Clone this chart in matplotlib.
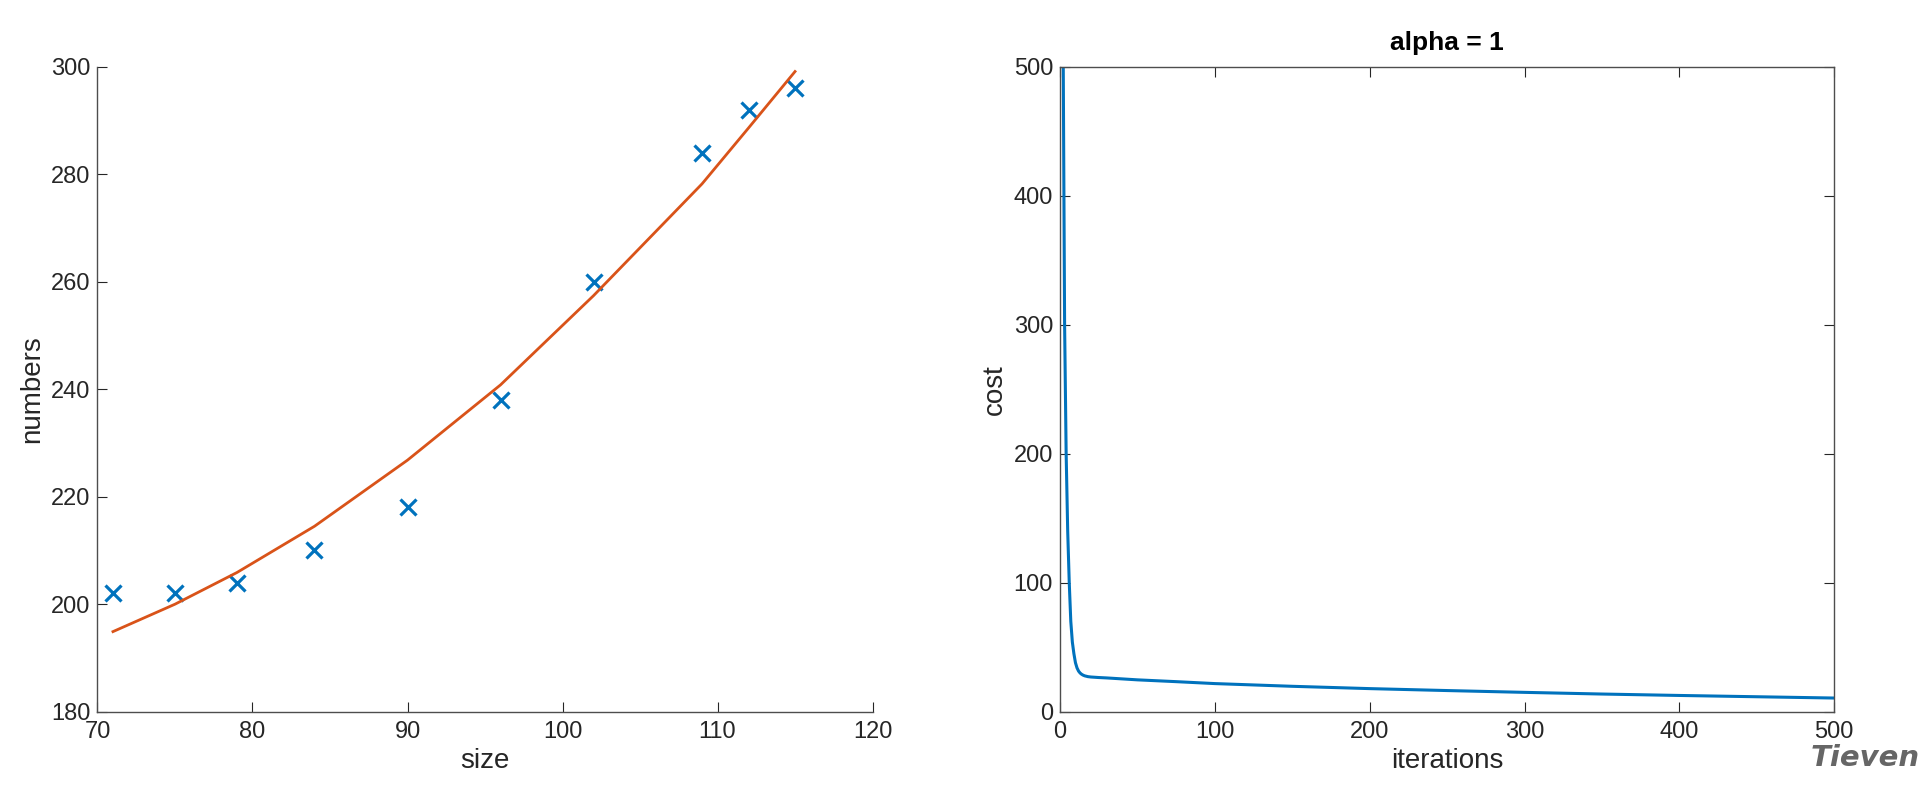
import matplotlib
matplotlib.use("Agg")
import matplotlib.pyplot as plt

plt.rcParams['font.family'] = ['Liberation Sans', 'DejaVu Sans']

# ---- data ----
size = [71, 75, 79, 84, 90, 96, 102, 109, 112, 115]
numbers = [202, 202, 204, 210, 218, 238, 260, 284, 292, 296]
fit = [194.9, 200.0, 205.9, 214.5, 226.8, 240.8, 257.4, 278.2, 288.6, 299.1]

iterations = [1, 2, 3, 4, 5, 6, 7, 8, 9, 10, 11, 12, 13, 14, 15, 16, 18, 20, 25, 30,
              50, 75, 100, 150, 200, 250, 300, 350, 400, 450, 500]
cost = [1800, 530, 300, 200, 140, 100, 70, 54, 45, 38, 34, 31.5, 30, 29, 28.3, 27.8, 27.2,
        26.9, 26.5, 26.2, 24.7, 23.3, 21.8, 19.7, 17.9, 16.4, 15.0, 13.7, 12.6, 11.6, 10.6]

blue = '#0072BD'
orange = '#D95319'
txt = '#262626'
spine_c = '#4d4d4d'

fig = plt.figure(figsize=(19.3, 7.9), dpi=100)
ax1 = fig.add_axes([0.0505, 0.0991, 0.4016, 0.8165])
ax2 = fig.add_axes([0.5492, 0.0991, 0.4012, 0.8165])

# left plot
ax1.plot(size, numbers, linestyle='none', marker='x', color=blue, markersize=11, markeredgewidth=2.3)
ax1.plot(size, fit, color=orange, linewidth=2.0)
ax1.set_xlim(70, 120)
ax1.set_ylim(180, 300)
ax1.set_xticks([70, 80, 90, 100, 110, 120])
ax1.set_yticks([180, 200, 220, 240, 260, 280, 300])
ax1.spines['top'].set_visible(False)
ax1.spines['right'].set_visible(False)
ax1.set_xlabel('size', fontsize=20, color=txt, labelpad=3)
ax1.set_ylabel('numbers', fontsize=20, color=txt, labelpad=4)

# right plot
ax2.plot(iterations, cost, color=blue, linewidth=2.2)
ax2.set_xlim(0, 500)
ax2.set_ylim(0, 500)
ax2.set_xticks([0, 100, 200, 300, 400, 500])
ax2.set_yticks([0, 100, 200, 300, 400, 500])
ax2.tick_params(top=True, right=True)
ax2.set_xlabel('iterations', fontsize=20, color=txt, labelpad=3)
ax2.set_ylabel('cost', fontsize=20, color=txt, labelpad=4)
ax2.set_title('alpha = 1', fontsize=19, fontweight='bold', color='black', pad=12)

for ax in (ax1, ax2):
    ax.tick_params(direction='in', length=7, width=0.8, labelsize=17, color=txt, labelcolor=txt)
    ax.tick_params(axis='y', pad=5)
    ax.tick_params(axis='x', pad=7)
    for s in ax.spines.values():
        s.set_color(spine_c)
        s.set_linewidth(1.0)

fig.text(0.9948, 0.030, 'Tieven', fontsize=21, fontstyle='italic', fontweight='bold',
         family='DejaVu Sans', color='#555555', alpha=0.9, ha='right', va='baseline')

fig.savefig('out.png', dpi=100)
